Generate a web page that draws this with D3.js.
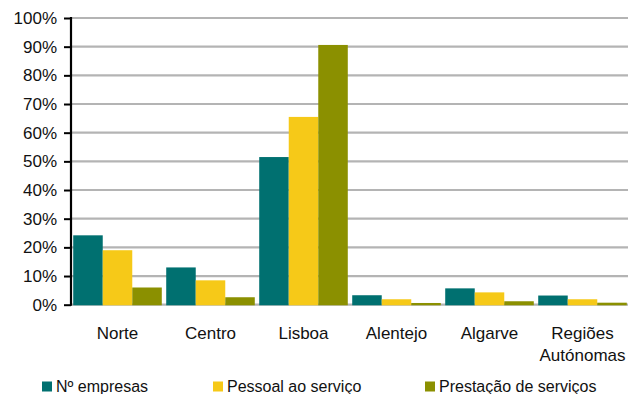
<!DOCTYPE html>
<html>
<head>
<meta charset="utf-8">
<script src="https://cdn.jsdelivr.net/npm/d3@7"></script>
<style>
  html, body { margin: 0; padding: 0; background: #fff; }
  svg { display: block; font-family: "Liberation Sans", Arial, sans-serif; }
</style>
</head>
<body>
<svg id="chart" width="628" height="394"></svg>
<script>
// Regions and the share (%) of each indicator
const regions = ["Norte", "Centro", "Lisboa", "Alentejo", "Algarve", "Regiões Autónomas"];
const seriesNames = ["Nº empresas", "Pessoal ao serviço", "Prestação de serviços"];
const empresas = [24.2, 13.0, 51.5, 3.3, 5.7, 3.2];
const pessoal  = [19.0, 8.5, 65.5, 1.9, 4.3, 1.9];
const prestacao = [6.0, 2.6, 90.6, 0.6, 1.2, 0.7];
const yTicks = [0, 10, 20, 30, 40, 50, 60, 70, 80, 90, 100];
const colors = ["#007070", "#F6C918", "#8B9000"];

const seriesValues = [empresas, pessoal, prestacao];

const svg = d3.select("#chart");
const plotLeft = 71, plotRight = 629, plotTop = 18, plotBottom = 304.7;

const x0 = d3.scaleBand().domain(regions).range([plotLeft, plotRight]).paddingInner(0).paddingOuter(0);
const x1 = d3.scaleBand().domain(seriesNames).range([0, x0.bandwidth()]).paddingInner(0).paddingOuter(0.075);
const y = d3.scaleLinear().domain([0, 100]).range([plotBottom, plotTop]);

// Horizontal gridlines
svg.append("g")
  .selectAll("line")
  .data(yTicks)
  .join("line")
  .attr("x1", plotLeft)
  .attr("x2", 628)
  .attr("y1", d => y(d))
  .attr("y2", d => y(d))
  .attr("stroke", "#b4b4b4")
  .attr("stroke-width", 2.2);

// Bars
const groups = svg.append("g")
  .selectAll("g")
  .data(regions)
  .join("g")
  .attr("transform", d => `translate(${x0(d)},0)`);

groups.selectAll("rect")
  .data((d, i) => seriesNames.map((s, j) => ({ s, j, v: seriesValues[j][i] })))
  .join("rect")
  .attr("x", d => x1(d.s))
  .attr("width", x1.bandwidth())
  .attr("y", d => y(d.v))
  .attr("height", d => y(0) - y(d.v) + 0.6)
  .attr("fill", d => colors[d.j]);

// Y axis
const yAxis = d3.axisLeft(y)
  .tickValues(yTicks)
  .tickFormat(d => d + "%")
  .tickSize(7)
  .tickPadding(7);

const ya = svg.append("g")
  .attr("transform", `translate(${plotLeft},0)`)
  .call(yAxis);
ya.select(".domain").attr("stroke", "#000").attr("stroke-width", 2.2)
  .attr("d", `M0,${plotTop - 1}V${plotBottom + 1}`);
ya.selectAll(".tick line").attr("stroke", "#000").attr("stroke-width", 2);
ya.selectAll(".tick text")
  .attr("font-size", 17)
  .attr("font-family", "Liberation Sans, Arial, sans-serif")
  .attr("fill", "#111");

// Category labels
const catLabels = svg.append("g");
regions.forEach(r => {
  const words = r === "Regiões Autónomas" ? ["Regiões", "Autónomas"] : [r];
  const t = catLabels.append("text")
    .attr("x", x0(r) + x0.bandwidth() / 2)
    .attr("y", 339)
    .attr("text-anchor", "middle")
    .attr("font-size", 17)
    .attr("fill", "#111");
  words.forEach((w, i) => {
    t.append("tspan")
      .attr("x", x0(r) + x0.bandwidth() / 2)
      .attr("dy", i === 0 ? 0 : 21.5)
      .text(w);
  });
});

// Legend
const legendX = [42, 213, 425];
const legend = svg.append("g");
seriesNames.forEach((s, j) => {
  legend.append("rect")
    .attr("x", legendX[j])
    .attr("y", 381.5)
    .attr("width", 10)
    .attr("height", 10)
    .attr("fill", colors[j]);
  legend.append("text")
    .attr("x", legendX[j] + 14)
    .attr("y", 391.5)
    .attr("font-size", 16)
    .attr("fill", "#111")
    .text(s);
});
</script>
</body>
</html>
